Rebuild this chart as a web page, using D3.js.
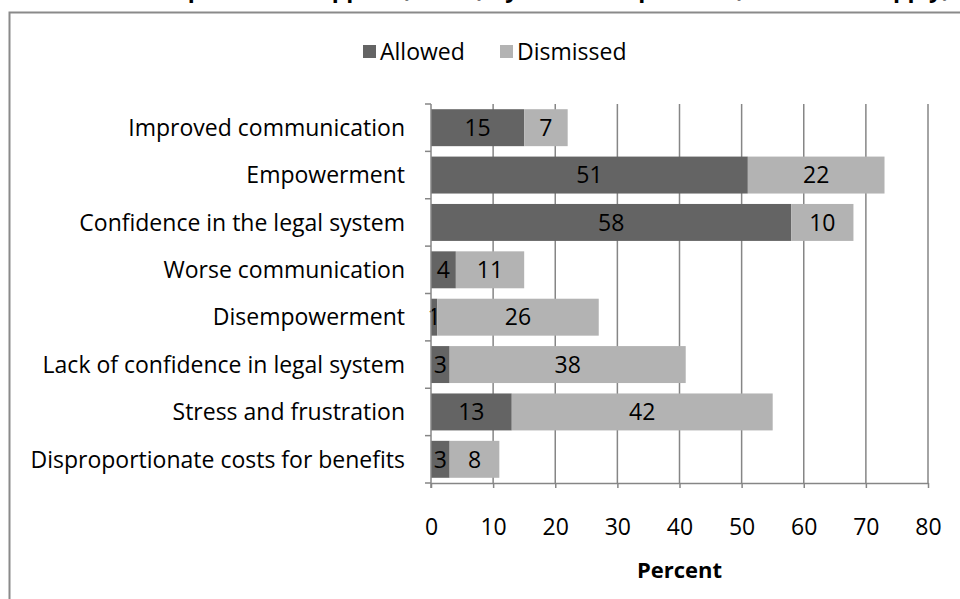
<!DOCTYPE html>
<html>
<head>
<meta charset="utf-8">
<script src="https://cdn.jsdelivr.net/npm/d3@7"></script>
<style>
  html, body { margin: 0; padding: 0; background: #fff; }
  svg { display: block; }
  text { font-family: "Open Sans", "Noto Sans", sans-serif; fill: #000; }
</style>
</head>
<body>
<svg id="chart" width="960" height="599"></svg>
<script>
// Impacts reported by appellants, split by appeal outcome (percent)
const categories = [
  "Improved communication",
  "Empowerment",
  "Confidence in the legal system",
  "Worse communication",
  "Disempowerment",
  "Lack of confidence in legal system",
  "Stress and frustration",
  "Disproportionate costs for benefits"
];
const allowed   = [15, 51, 58, 4, 1, 3, 13, 3];
const dismissed = [7, 22, 10, 11, 26, 38, 42, 8];
const seriesNames = ["Allowed", "Dismissed"];
const seriesColors = ["#646464", "#b3b3b3"];
const xTicks = [0, 10, 20, 30, 40, 50, 60, 70, 80];
const titleText = "Impact of the appeal (n=126) by outcome, percent (tick all that apply)";
const xTitle = "Percent";

const FONT = 23;
const svg = d3.select("#chart");
const plot = { left: 431, right: 928, top: 104, bottom: 483 };

// Outer chart frame (runs off the right and bottom edges)
svg.append("rect")
  .attr("x", 9.5).attr("y", 12.5)
  .attr("width", 1000).attr("height", 1000)
  .attr("fill", "none").attr("stroke", "#8a8a8a").attr("stroke-width", 2);

// Title, sitting mostly above the top edge
svg.append("text")
  .attr("x", 950).attr("y", -3)
  .attr("text-anchor", "end")
  .attr("font-weight", "bold")
  .attr("font-size", FONT)
  .text(titleText);

const x = d3.scaleLinear().domain([0, 80]).range([plot.left, plot.right]);
const y = d3.scaleBand().domain(categories).range([plot.top, plot.bottom]).paddingInner(0.22).paddingOuter(0.11);
const yBand = d3.scaleBand().domain(categories).range([plot.top, plot.bottom]);

// Vertical gridlines
svg.append("g")
  .selectAll("line")
  .data(xTicks.slice(1))
  .join("line")
  .attr("x1", d => x(d)).attr("x2", d => x(d))
  .attr("y1", plot.top).attr("y2", plot.bottom)
  .attr("stroke", "#868686").attr("stroke-width", 1.5);

// Stacked bars
const rows = categories.map((c, i) => ({ cat: c, vals: [allowed[i], dismissed[i]] }));
const segs = [];
rows.forEach(r => {
  let acc = 0;
  r.vals.forEach((v, s) => {
    segs.push({ cat: r.cat, s, v, x0: acc, x1: acc + v });
    acc += v;
  });
});

svg.append("g")
  .selectAll("rect")
  .data(segs)
  .join("rect")
  .attr("x", d => x(d.x0))
  .attr("y", d => y(d.cat))
  .attr("width", d => x(d.x1) - x(d.x0))
  .attr("height", y.bandwidth())
  .attr("fill", d => seriesColors[d.s]);

// Value labels centred in each segment
svg.append("g")
  .selectAll("text")
  .data(segs)
  .join("text")
  .attr("x", d => (x(d.x0) + x(d.x1)) / 2)
  .attr("y", d => y(d.cat) + y.bandwidth() / 2)
  .attr("dy", "0.36em")
  .attr("text-anchor", "middle")
  .attr("font-size", FONT)
  .text(d => d.v);

// Y axis: line, ticks between categories, labels
const yAxisG = svg.append("g");
yAxisG.append("line")
  .attr("x1", plot.left).attr("x2", plot.left)
  .attr("y1", plot.top).attr("y2", plot.bottom + 5)
  .attr("stroke", "#868686").attr("stroke-width", 1.5);
const yTickPos = categories.map(c => yBand(c)).concat([plot.bottom]);
yAxisG.selectAll("line.tick")
  .data(yTickPos)
  .join("line")
  .attr("class", "tick")
  .attr("x1", plot.left - 6).attr("x2", plot.left)
  .attr("y1", d => d).attr("y2", d => d)
  .attr("stroke", "#868686").attr("stroke-width", 1.5);
yAxisG.selectAll("text")
  .data(categories)
  .join("text")
  .attr("x", 405)
  .attr("y", d => y(d) + y.bandwidth() / 2)
  .attr("dy", "0.36em")
  .attr("text-anchor", "end")
  .attr("font-size", FONT)
  .text(d => d);

// X axis
const xAxis = d3.axisBottom(x).tickValues(xTicks).tickSize(5).tickPadding(47).tickSizeOuter(0);
const xg = svg.append("g")
  .attr("transform", `translate(0,${plot.bottom})`)
  .call(xAxis);
xg.select(".domain").attr("stroke", "#868686").attr("stroke-width", 1.5);
xg.selectAll(".tick line").attr("stroke", "#868686").attr("stroke-width", 1.5);
xg.selectAll(".tick text")
  .attr("dy", "0")
  .attr("font-size", FONT)
  .attr("font-family", "'Open Sans', 'Noto Sans', sans-serif")
  .attr("fill", "#000");

svg.append("text")
  .attr("x", x(40)).attr("y", 578)
  .attr("text-anchor", "middle")
  .attr("font-weight", "bold")
  .attr("font-size", 22)
  .text(xTitle);

// Legend
const legend = svg.append("g").attr("transform", "translate(0,52)");
const legendItems = [
  { name: seriesNames[0], color: seriesColors[0], x: 363 },
  { name: seriesNames[1], color: seriesColors[1], x: 500 }
];
legendItems.forEach(it => {
  legend.append("rect")
    .attr("x", it.x).attr("y", -7)
    .attr("width", 13).attr("height", 13)
    .attr("fill", it.color);
  legend.append("text")
    .attr("x", it.x + 17).attr("y", 0)
    .attr("dy", "0.36em")
    .attr("font-size", FONT)
    .text(it.name);
});
</script>
</body>
</html>
